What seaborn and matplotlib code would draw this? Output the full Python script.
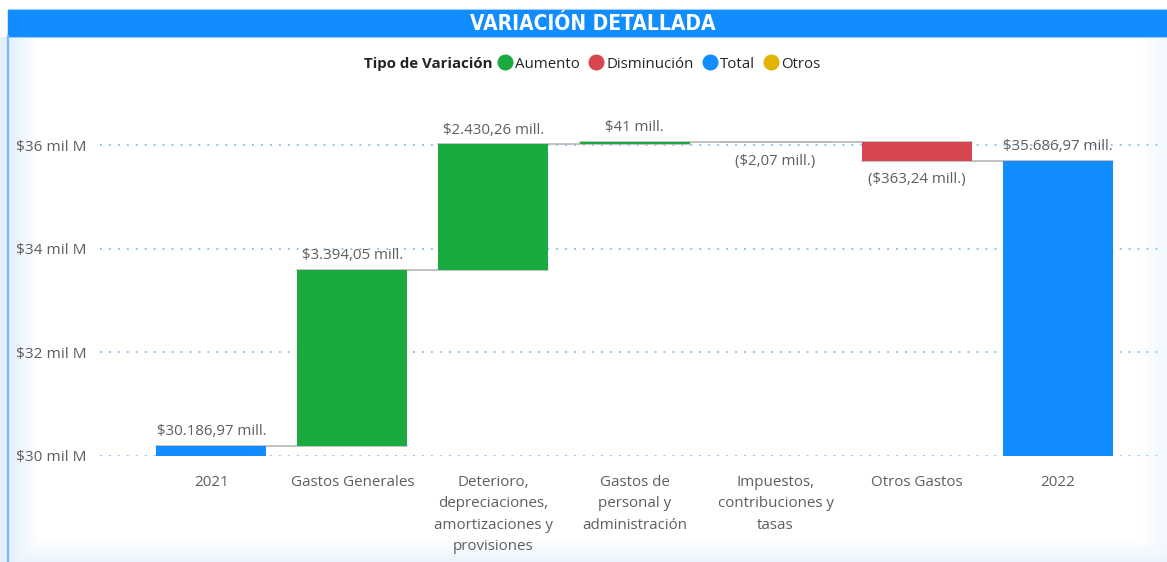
import matplotlib
matplotlib.use("Agg")
import matplotlib.pyplot as plt
import seaborn as sns
import numpy as np
from matplotlib.lines import Line2D
from matplotlib.patches import Rectangle

# data (millones)
categorias = ["2021", "Gastos Generales", "Deterioro,\ndepreciaciones,\namortizaciones y\nprovisiones",
              "Gastos de\npersonal y\nadministración", "Impuestos,\ncontribuciones y\ntasas",
              "Otros Gastos", "2022"]
variacion = [30186.97, 3394.05, 2430.26, 41, -2.07, -363.24, 35686.97]
tipo = ["Total", "Aumento", "Aumento", "Aumento", "Disminución", "Disminución", "Total"]
etiquetas_y = ["$30 mil M", "$32 mil M", "$34 mil M", "$36 mil M"]
ticks_y = [30000, 32000, 34000, 36000]

colores_tipo = {"Aumento": "#1AAB40", "Disminución": "#D64550", "Total": "#118DFF", "Otros": "#E0B400"}

sns.set_style("white")
plt.rcParams["font.family"] = ["Open Sans", "DejaVu Sans"]

# running totals
inicio, fin = [], []
acum = 0
for v, t in zip(variacion, tipo):
    if t == "Total":
        inicio.append(0)
        fin.append(v)
        acum = v
    else:
        inicio.append(acum)
        acum = acum + v
        fin.append(acum)

def fmt(v):
    a = abs(v)
    if a == int(a):
        s = f"{int(a):,}".replace(",", ".")
    else:
        s = f"{a:,.2f}".replace(",", "X").replace(".", ",").replace("X", ".")
    s = "$" + s + " mill."
    return "(" + s + ")" if v < 0 else s

W, H = 1167, 562
fig = plt.figure(figsize=(W / 100, H / 100), dpi=100)

# soft card shading (left / bottom / right edges)
bg = fig.add_axes([0, 0, 1, 1], zorder=-5)
xx = np.arange(W)[None, :]
yy = np.arange(H)[:, None]
a = np.zeros((H, W))
a = np.maximum(a, np.clip(1 - (xx - 8) / 30, 0, 1) * 0.25 * (yy > 36))
a = np.maximum(a, np.clip(1 - (W - xx) / 30, 0, 1) * 0.12 * (yy > 36))
a = np.maximum(a, np.clip(1 - (H - yy) / 25, 0, 1) * 0.18)
img = np.zeros((H, W, 4))
img[..., 0], img[..., 1], img[..., 2] = 0.55, 0.76, 0.97
img[..., 3] = a
bg.imshow(img, aspect="auto", extent=[0, 1, 0, 1])
bg.axis("off")

ax = fig.add_axes([100 / W, 106 / H, 1062 / W, 356 / H])

ancho = 0.78
sns.barplot(x=list(range(len(categorias))), y=np.abs(variacion), hue=list(range(len(categorias))),
            palette=[colores_tipo[t] for t in tipo], width=ancho, legend=False,
            saturation=1, ax=ax, zorder=3)

for i, p in enumerate(ax.patches):
    lo = min(inicio[i], fin[i])
    p.set_y(lo)
    p.set_height(abs(fin[i] - inicio[i]))
    p.set_edgecolor("none")

# connectors
for i in range(len(categorias) - 1):
    ax.plot([i - ancho / 2, i + 1 + ancho / 2], [fin[i], fin[i]], color="#B8B6B4", lw=1.2, zorder=2)

# data labels
for i, v in enumerate(variacion):
    if v < 0:
        ax.annotate(fmt(v), (i, min(inicio[i], fin[i])), xytext=(0, -8), textcoords="offset points",
                    ha="center", va="top", fontsize=10.8, color="#605E5C", zorder=5)
    else:
        ax.annotate(fmt(v), (i, fin[i]), xytext=(0, 5), textcoords="offset points",
                    ha="center", va="bottom", fontsize=10.8, color="#605E5C", zorder=5)

ax.set_xlim(-0.79, 6.74)
ax.set_ylim(30000, 36870)
ax.set_yticks(ticks_y)
ax.set_yticklabels(etiquetas_y)
ax.set_xticks(range(len(categorias)))
ax.set_xticklabels(categorias, linespacing=1.55)
ax.tick_params(axis="both", length=0, colors="#605E5C")
ax.tick_params(axis="x", labelsize=10.9, pad=14)
ax.tick_params(axis="y", labelsize=11.1, pad=9.5)
ax.grid(axis="y", color="#8CC6F7", linestyle=(0, (1, 3.6)), lw=1.4, zorder=0)
ax.set_axisbelow(True)
ax.patch.set_alpha(0)
for s in ax.spines.values():
    s.set_visible(False)
ax.set_xlabel("")
ax.set_ylabel("")

# header band
fig.patches.append(Rectangle((8 / W, 1 - 37 / H), 1, 28 / H, transform=fig.transFigure,
                             color="#C6E0FA", zorder=0))
fig.patches.append(Rectangle((8 / W, 1 - 36 / H), 1, 26 / H, transform=fig.transFigure,
                             color="#118DFF", zorder=0))
fig.add_artist(Line2D([7.5 / W, 7.5 / W], [0, 1 - 36 / H], transform=fig.transFigure,
                      color="#7DB8F5", lw=1.6))
fig.text(593 / W, 1 - 23.5 / H, "VARIACIÓN DETALLADA", ha="center", va="center", color="white",
         fontsize=15, fontweight="bold", fontstretch="condensed", family=["DejaVu Sans"])

# legend
fig.text(493 / W, 1 - 64 / H, "Tipo de Variación", ha="right", va="center",
         fontsize=10.8, fontweight="bold", color="#252423")
handles = [Line2D([], [], marker="o", ls="", markersize=10.5, color=colores_tipo[k])
           for k in ["Aumento", "Disminución", "Total", "Otros"]]
fig.legend(handles, ["Aumento", "Disminución", "Total", "Otros"], loc="center left",
           bbox_to_anchor=(500 / W, 1 - 64 / H), ncol=4, frameon=False, fontsize=10.8,
           handlelength=0.7, handletextpad=0.3, columnspacing=0.75, borderpad=0, borderaxespad=0,
           labelcolor="#252423")

fig.savefig("out.png", dpi=100)
